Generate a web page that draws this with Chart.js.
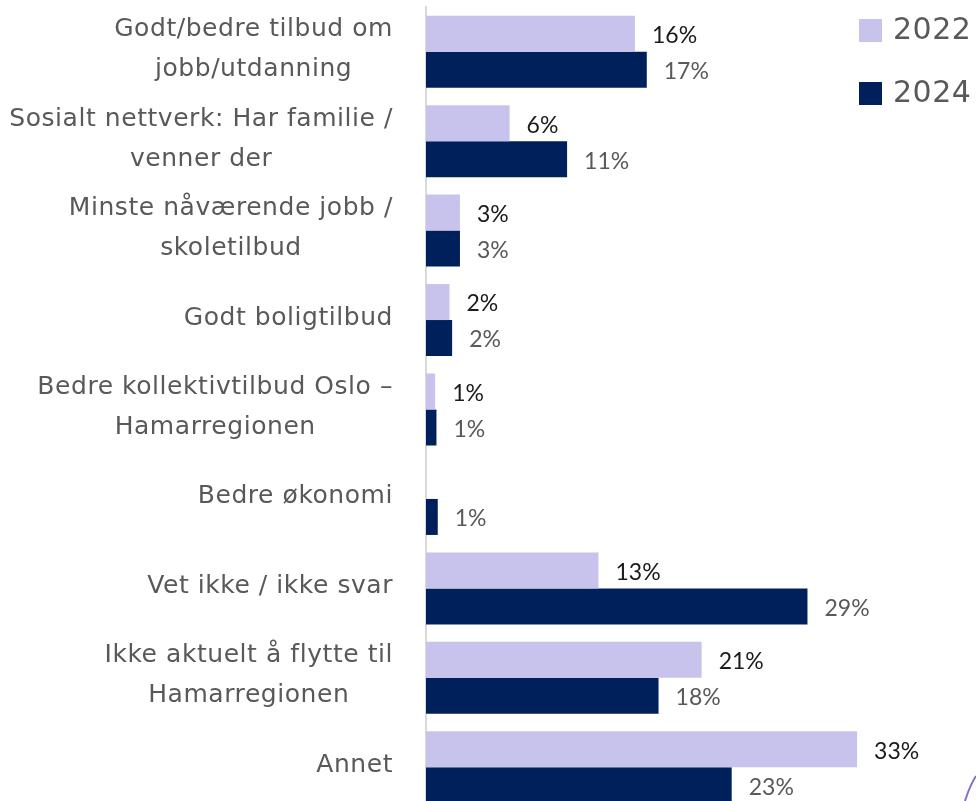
<!DOCTYPE html>
<html>
<head>
<meta charset="utf-8">
<script src="https://cdn.jsdelivr.net/npm/chart.js@4"></script>
<style>
html,body{margin:0;padding:0;background:#fff;overflow:hidden;}
#wrap{position:relative;width:976px;height:812px;}
</style>
</head>
<body>
<div id="wrap"><canvas id="c"></canvas></div>
<script>
const categories = [
  ["Godt/bedre tilbud om", "jobb/utdanning"],
  ["Sosialt nettverk: Har familie /", "venner der"],
  ["Minste nåværende jobb /", "skoletilbud"],
  ["Godt boligtilbud"],
  ["Bedre kollektivtilbud Oslo –", "Hamarregionen"],
  ["Bedre økonomi"],
  ["Vet ikke / ikke svar"],
  ["Ikke aktuelt å flytte til", "Hamarregionen"],
  ["Annet"]
];
const seriesNames = ["2022", "2024"];
const values2022 = [16.0, 6.4, 2.6, 1.8, 0.7, 0, 13.2, 21.1, 33.0];
const values2024 = [16.9, 10.8, 2.6, 2.0, 0.8, 0.9, 29.2, 17.8, 23.4];
const colors = ["#c8c3ec", "#00205b"];
const labelColors = ["#1a1a1a", "#595959"];

// Category labels: block right-aligned, lines centred within the block
const catLabelPlugin = {
  id: 'catLabels',
  afterDraw(chart) {
    const ctx = chart.ctx;
    const scale = chart.scales.y;
    ctx.save();
    ctx.letterSpacing = '0.55px';
    ctx.font = '25px "DejaVu Sans"';
    ctx.fillStyle = '#595959';
    ctx.textAlign = 'center';
    ctx.textBaseline = 'middle';
    const right = scale.right - 33;
    chart.data.labels.forEach((lines, i) => {
      const yc = scale.getPixelForTick(i) - 2;
      const maxW = Math.max(...lines.map(l => ctx.measureText(l).width));
      const xc = right - maxW / 2;
      const n = lines.length;
      lines.forEach((l, j) => {
        ctx.fillText(l, xc, yc + (j - (n - 1) / 2) * 40);
      });
    });
    ctx.restore();
  }
};

const labelPlugin = {
  id: 'valLabels',
  afterDatasetsDraw(chart) {
    const ctx = chart.ctx;
    ctx.save();
    ctx.font = '23px Lato';
    ctx.textAlign = 'left';
    ctx.textBaseline = 'middle';
    chart.data.datasets.forEach((ds, di) => {
      const meta = chart.getDatasetMeta(di);
      meta.data.forEach((bar, i) => {
        const v = ds.data[i];
        if (!v) return;
        ctx.fillStyle = labelColors[di];
        ctx.fillText(Math.round(v) + '%', bar.x + 17, bar.y + 2);
      });
    });
    ctx.restore();
  }
};

const legendPlugin = {
  id: 'customLegend',
  afterDraw(chart) {
    const ctx = chart.ctx;
    ctx.save();
    ctx.letterSpacing = '0.5px';
    ctx.font = '30px "DejaVu Sans"';
    ctx.textBaseline = 'middle';
    ctx.textAlign = 'left';
    chart.data.datasets.forEach((ds, di) => {
      const y = 30.5 + di * 63;
      ctx.fillStyle = ds.backgroundColor;
      ctx.fillRect(859, y - 11.5, 23, 23);
      ctx.fillStyle = '#595959';
      ctx.fillText(ds.label, 893, y + 1);
    });
    // decorative slide curve at bottom right
    ctx.strokeStyle = '#7d73c8';
    ctx.lineWidth = 2;
    ctx.beginPath();
    ctx.moveTo(965, 801);
    ctx.quadraticCurveTo(970, 785, 976, 776);
    ctx.stroke();
    ctx.restore();
  }
};

new Chart(document.getElementById('c'), {
  type: 'bar',
  data: {
    labels: categories,
    datasets: [
      { label: seriesNames[0], data: values2022, backgroundColor: colors[0] },
      { label: seriesNames[1], data: values2024, backgroundColor: colors[1] }
    ]
  },
  options: {
    indexAxis: 'y',
    responsive: true,
    maintainAspectRatio: false,
    animation: false,
    layout: { padding: { top: 7, bottom: 0, left: 0, right: 0 } },
    datasets: { bar: { categoryPercentage: 0.805, barPercentage: 1.0 } },
    plugins: { legend: { display: false }, tooltip: { enabled: false } },
    scales: {
      x: { display: false, min: 0, max: 42.1 },
      y: {
        afterFit(scale) { scale.width = 426; scale.paddingTop = 0; scale.paddingBottom = 0; },
        grid: { display: false, drawTicks: false },
        border: { display: true, color: '#d9d9d9', width: 2 },
        ticks: {
          color: 'rgba(0,0,0,0)',
          padding: 33,
          font: { family: '"DejaVu Sans"', size: 25, lineHeight: 1.6 }
        }
      }
    }
  },
  plugins: [labelPlugin, legendPlugin, catLabelPlugin]
});
</script>
</body>
</html>
